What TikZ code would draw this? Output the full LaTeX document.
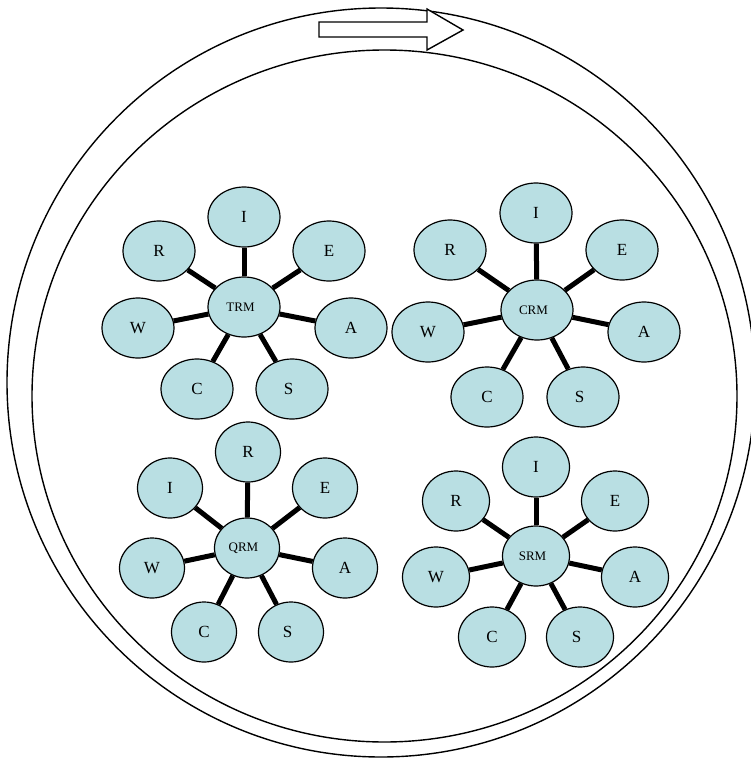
\documentclass[tikz,border=0pt]{standalone}
\usepackage{fontspec}
\setmainfont{Liberation Serif}
\usetikzlibrary{shapes.geometric}
\definecolor{bubblue}{RGB}{185,223,227}
\begin{document}
\begin{tikzpicture}[x=1pt,y=-1pt,
  bub/.style={ellipse,draw,fill=bubblue,line width=1.2pt,inner sep=0pt,
    minimum width=#1,minimum height=60pt,font=\fontsize{17}{17}\selectfont},
  bub/.default=72pt,
  hub/.style={bub=#1,font=\fontsize{13}{13}\selectfont,lefted},
  hub/.default=72pt,
  lefted/.style={execute at begin node={\hspace*{-7pt}}},
  spoke/.style={line width=5pt},
  ring/.style={line width=1.4pt}]

  \useasboundingbox (0,0) rectangle (750,758);

  \draw [ring] (381,382.5) ellipse [x radius=374, y radius=374.5];
  \draw [ring] (384.5,396) ellipse [x radius=352.5, y radius=346];
  \draw [ring,fill=white,line join=miter] (319,22) -- (427,22) -- (427,9) -- (463,30)
    -- (427,50) -- (427,37) -- (319,37) -- cycle;

  \node (trm)  at (244,307) [hub] {TRM};
  \node (trmI) at (244,217) [bub] {I};
  \node (trmR) at (159,251) [bub] {R};
  \node (trmE) at (329,251) [bub] {E};
  \node (trmW) at (138,328) [bub] {W};
  \node (trmA) at (351,328) [bub] {A};
  \node (trmC) at (197,389) [bub] {C};
  \node (trmS) at (292,389) [bub,lefted] {S};

  \node (crm)  at (537,310) [hub] {CRM};
  \node (crmI) at (536,213) [bub] {I};
  \node (crmR) at (450,250) [bub] {R};
  \node (crmE) at (622,250) [bub] {E};
  \node (crmW) at (428,332) [bub] {W};
  \node (crmA) at (644,332) [bub] {A};
  \node (crmC) at (487,397) [bub] {C};
  \node (crmS) at (583,397) [bub,lefted] {S};

  \node (qrm)  at (247,548) [hub=65pt] {QRM};
  \node (qrmR) at (248,452) [bub=65pt] {R};
  \node (qrmI) at (170,488) [bub=65pt] {I};
  \node (qrmE) at (325,488) [bub=65pt] {E};
  \node (qrmW) at (152,568) [bub=65pt] {W};
  \node (qrmA) at (345,568) [bub=65pt] {A};
  \node (qrmC) at (204,632) [bub=65pt] {C};
  \node (qrmS) at (291,632) [bub=65pt,lefted] {S};

  \node (srm)  at (536,556) [hub=67pt] {SRM};
  \node (srmI) at (536,467) [bub=67pt] {I};
  \node (srmR) at (456,501) [bub=67pt] {R};
  \node (srmE) at (615,501) [bub=67pt] {E};
  \node (srmW) at (436,577) [bub=67pt] {W};
  \node (srmA) at (635,577) [bub=67pt] {A};
  \node (srmC) at (492,637) [bub=67pt] {C};
  \node (srmS) at (580,637) [bub=67pt,lefted] {S};

  \draw [spoke] (trm) -- (trmI);
  \draw [spoke] (trm) -- (trmR);
  \draw [spoke] (trm) -- (trmE);
  \draw [spoke] (trm) -- (trmW);
  \draw [spoke] (trm) -- (trmA);
  \draw [spoke] (trm) -- (trmC);
  \draw [spoke] (trm) -- (trmS);

  \draw [spoke] (crm) -- (crmI);
  \draw [spoke] (crm) -- (crmR);
  \draw [spoke] (crm) -- (crmE);
  \draw [spoke] (crm) -- (crmW);
  \draw [spoke] (crm) -- (crmA);
  \draw [spoke] (crm) -- (crmC);
  \draw [spoke] (crm) -- (crmS);

  \draw [spoke] (qrm) -- (qrmR);
  \draw [spoke] (qrm) -- (qrmI);
  \draw [spoke] (qrm) -- (qrmE);
  \draw [spoke] (qrm) -- (qrmW);
  \draw [spoke] (qrm) -- (qrmA);
  \draw [spoke] (qrm) -- (qrmC);
  \draw [spoke] (qrm) -- (qrmS);

  \draw [spoke] (srm) -- (srmI);
  \draw [spoke] (srm) -- (srmR);
  \draw [spoke] (srm) -- (srmE);
  \draw [spoke] (srm) -- (srmW);
  \draw [spoke] (srm) -- (srmA);
  \draw [spoke] (srm) -- (srmC);
  \draw [spoke] (srm) -- (srmS);

\end{tikzpicture}
\end{document}
